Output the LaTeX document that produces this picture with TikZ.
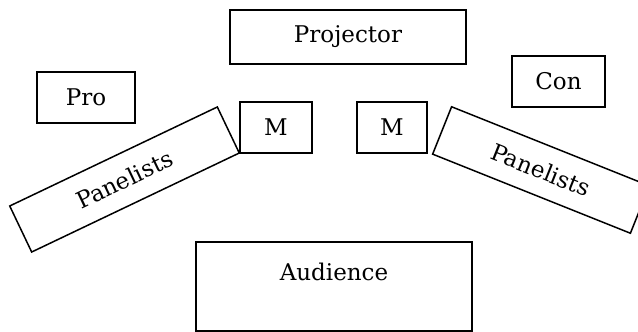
\documentclass[tikz,border=0pt]{standalone}
\usepackage{fontspec}
\setmainfont{DejaVu Serif}
\tikzset{
  spot/.style={draw, line width=0.75pt, inner sep=0pt, minimum height=25.5pt, font=\fontsize{11.5}{13}\selectfont},
}
\begin{document}
\begin{tikzpicture}[x=0.5pt, y=-0.5pt]
            \clip (0,0) rectangle (638,332);
            \fill[white] (0,0) rectangle (638,332);

            \node[spot, minimum width=118pt, minimum height=27pt] (projector) at (348,37) {Projector};

            \node[spot, minimum width=49pt] (pro) at (86,97.5) {Pro};
            \node[spot, minimum width=46.5pt] (con) at (558.5,81.5) {Con};

            \node[spot, minimum width=36pt] (modl) at (276,127.5) {M};
            \node[spot, minimum width=35pt] (modr) at (392,127.5) {M};

            \node[spot, minimum width=115pt, rotate=25.5] (panl) at (124.5,179.5) {Panelists};
            \node[spot, minimum width=106.5pt, rotate=-21.8] (panr) at (541,170) {Panelists};

            \node[spot, minimum width=138pt, minimum height=44.5pt,
                  label={[anchor=center, yshift=-15.5pt, font=\fontsize{11.5}{13}\selectfont]north:Audience}] (aud) at (334,286.5) {};
        \end{tikzpicture}
\end{document}
